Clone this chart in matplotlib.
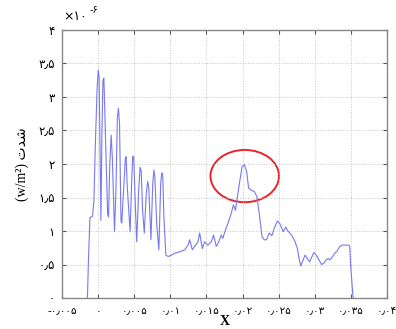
import matplotlib
matplotlib.use("Agg")
import matplotlib.pyplot as plt
from matplotlib.patches import Ellipse

# intensity profile along x (y values in units of 1e-6 W/m^2)
x_vals = [
    -0.00150, -0.00135, -0.00115, -0.00080, -0.00060, -0.00040, -0.00015,
    0.00000, 0.00012, 0.00025, 0.00037, 0.00050, 0.00065, 0.00078, 0.00095,
    0.00130, 0.00142, 0.00160, 0.00179, 0.00195, 0.00225, 0.00245, 0.00265,
    0.00280, 0.00295, 0.00315, 0.00326, 0.00350, 0.00375, 0.00386, 0.00400,
    0.00441, 0.00465, 0.00478, 0.00492, 0.00510, 0.00533, 0.00560, 0.00580,
    0.00595, 0.00615, 0.00638, 0.00665, 0.00685, 0.00700, 0.00730, 0.00755,
    0.00771, 0.00785, 0.00810, 0.00840, 0.00865, 0.00880, 0.00893, 0.00910,
    0.00937, 0.00968, 0.01015, 0.01061, 0.01129, 0.01198, 0.01244, 0.01267,
    0.01304, 0.01336, 0.01382, 0.01405, 0.01442, 0.01474, 0.01519, 0.01566,
    0.01598, 0.01635, 0.01671, 0.01704, 0.01726, 0.01749, 0.01795, 0.01842,
    0.01873, 0.01901, 0.01919, 0.01956, 0.01993, 0.02025, 0.02056, 0.02084,
    0.02117, 0.02163, 0.02200, 0.02231, 0.02269, 0.02300, 0.02332, 0.02369,
    0.02406, 0.02438, 0.02483, 0.02517, 0.02562, 0.02599, 0.02621, 0.02654,
    0.02690, 0.02727, 0.02759, 0.02782, 0.02806, 0.02828, 0.02865, 0.02897,
    0.02930, 0.02966, 0.02989, 0.03021, 0.03058, 0.03095, 0.03127, 0.03158,
    0.03186, 0.03209, 0.03241, 0.03278, 0.03310, 0.03347, 0.03379, 0.03471,
    0.03485, 0.03499, 0.03530, 0.03540,
]
y_vals = [
    0.00, 0.60, 1.20, 1.22, 1.45, 2.30, 3.15,
    3.40, 3.30, 2.20, 1.16, 2.40, 3.25, 3.28, 2.60,
    1.25, 1.21, 2.00, 2.43, 2.10, 0.99, 1.60, 2.70,
    2.83, 2.60, 1.15, 1.12, 1.60, 2.08, 2.11, 1.70,
    0.99, 1.80, 2.12, 2.10, 1.50, 0.84, 1.60, 1.95,
    1.90, 1.30, 0.97, 1.55, 1.74, 1.65, 0.87, 1.70,
    1.91, 1.80, 1.10, 0.72, 1.70, 1.87, 1.85, 1.20,
    0.64, 0.62, 0.64, 0.67, 0.69, 0.72, 0.79, 0.87,
    0.72, 0.77, 0.84, 0.97, 0.74, 0.84, 0.79, 0.84,
    0.94, 0.77, 0.84, 0.94, 0.89, 0.97, 1.11, 1.26,
    1.39, 1.31, 1.44, 1.71, 1.96, 1.99, 1.89, 1.64,
    1.61, 1.59, 1.51, 1.26, 0.92, 0.87, 0.87, 0.97,
    0.93, 1.04, 1.15, 1.11, 0.99, 1.06, 1.01, 0.97,
    0.92, 0.84, 0.74, 0.59, 0.48, 0.54, 0.64, 0.59,
    0.54, 0.63, 0.68, 0.64, 0.57, 0.50, 0.52, 0.57,
    0.59, 0.57, 0.61, 0.67, 0.70, 0.77, 0.79, 0.79,
    0.77, 0.47, 0.02, 0.00,
]

x_ticks = [-0.005, 0, 0.005, 0.01, 0.015, 0.02, 0.025, 0.03, 0.035, 0.04]
x_tick_labels = ["-۰٫۰۰۵", "۰", "۰٫۰۰۵", "۰٫۰۱", "۰٫۰۱۵", "۰٫۰۲",
                 "۰٫۰۲۵", "۰٫۰۳", "۰٫۰۳۵", "۰٫۰۴"]
y_ticks = [0, 0.5, 1, 1.5, 2, 2.5, 3, 3.5, 4]
y_tick_labels = ["۰", "۰٫۵", "۱", "۱٫۵", "۲", "۲٫۵", "۳", "۳٫۵", "۴"]

# highlighted peak region
ellipse_center = (0.0203, 1.82)
ellipse_size = (0.0095, 0.78)

# "شدت" written in presentation forms, visual order
label_fa = "\uFE95\uFEAA\uFEB7"

fig = plt.figure(figsize=(3.96, 3.29), dpi=100)
ax = fig.add_axes([0.157, 0.094, 0.820, 0.815])

ax.plot(x_vals, y_vals, color="#7878f0", lw=0.8)
ax.add_patch(Ellipse(ellipse_center, ellipse_size[0], ellipse_size[1],
                     fill=False, edgecolor="#e8242a", lw=1.4))

ax.set_xlim(-0.005, 0.04)
ax.set_ylim(0, 4)
ax.set_xticks(x_ticks)
ax.set_xticklabels(x_tick_labels, fontsize=7.5, family="DejaVu Sans")
ax.set_yticks(y_ticks)
ax.set_yticklabels(y_tick_labels, fontsize=8.5, family="DejaVu Sans")
ax.tick_params(direction="in", length=3, top=True, right=True,
               color="#555555")
ax.tick_params(axis="x", pad=6)
ax.tick_params(axis="y", pad=5)
ax.grid(True, ls=":", color="#c4c4c4", lw=0.7)
for s in ax.spines.values():
    s.set_color("#888888")
    s.set_linewidth(1.0)

ax.set_xlabel("X", fontsize=10, fontweight="bold",
              family=["Liberation Serif", "DejaVu Sans"], labelpad=-1)
ax.set_ylabel("(w/m²) " + label_fa, fontsize=10,
              family=["Liberation Serif", "DejaVu Sans"], labelpad=7)

# exponent marker above the y axis
fig.text(0.16, 0.93, "×۱۰", fontsize=9, family="DejaVu Sans", va="bottom")
fig.text(0.225, 0.955, "-۶", fontsize=7, family="DejaVu Sans", va="bottom")

fig.savefig("out.png", dpi=100)
